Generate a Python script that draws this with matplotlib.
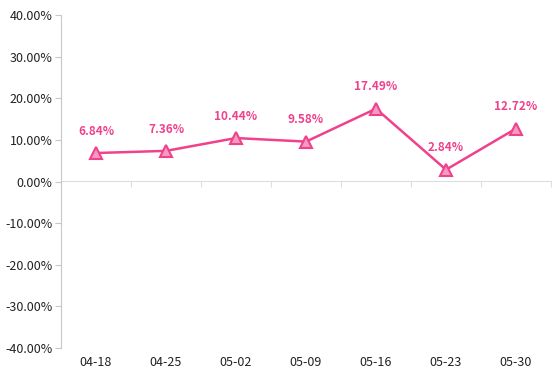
import matplotlib
matplotlib.use("Agg")
import matplotlib.pyplot as plt
import numpy as np

dates = ["04-18", "04-25", "05-02", "05-09", "05-16", "05-23", "05-30"]
values = [6.84, 7.36, 10.44, 9.58, 17.49, 2.84, 12.72]
yticks = [-40, -30, -20, -10, 0, 10, 20, 30, 40]

plt.rcParams['font.family'] = ['Noto Sans CJK SC', 'DejaVu Sans']

line_color = "#f0418c"
fill_color = "#f59ac0"
axis_gray = "#c8c8c8"
zero_gray = "#dddddd"

fig = plt.figure(figsize=(5.54, 3.88), dpi=100)
ax = fig.add_axes([61 / 554, 1 - 348 / 388, 490 / 554, 333 / 388])

x = np.arange(len(dates))
ax.plot(x, values, color=line_color, lw=1.8, marker="^", ms=9,
        mfc=fill_color, mec=line_color, mew=1.5, zorder=3)
for xi, v in zip(x, values):
    ax.annotate(f"{v:.2f}%", (xi, v), xytext=(0, 11), textcoords="offset points",
                ha="center", va="bottom", color=line_color, fontsize=8.5,
                fontweight="bold")

ax.set_xlim(-0.5, len(dates) - 0.5)
ax.set_ylim(-40, 40)
ax.set_yticks(yticks)
ax.set_yticklabels([f"{t:.2f}%" for t in yticks])
ax.set_xticks(x)
ax.set_xticklabels(dates)

for s in ["top", "right", "bottom"]:
    ax.spines[s].set_visible(False)
ax.spines["left"].set_color(axis_gray)
ax.tick_params(axis="y", colors=axis_gray, labelcolor="#222222", length=4,
               labelsize=9, pad=2)
ax.tick_params(axis="x", length=0, labelcolor="#222222", labelsize=9, pad=6)

# zero line with category boundary ticks (pointing down)
sec = ax.secondary_xaxis(0.5)
for sp in sec.spines.values():
    sp.set_color(zero_gray)
sec.set_xticks(np.arange(len(dates) + 1) - 0.5)
sec.set_xticklabels([])
sec.tick_params(axis="x", colors=zero_gray, length=4, direction="in")

fig.savefig("out.png", dpi=100)
